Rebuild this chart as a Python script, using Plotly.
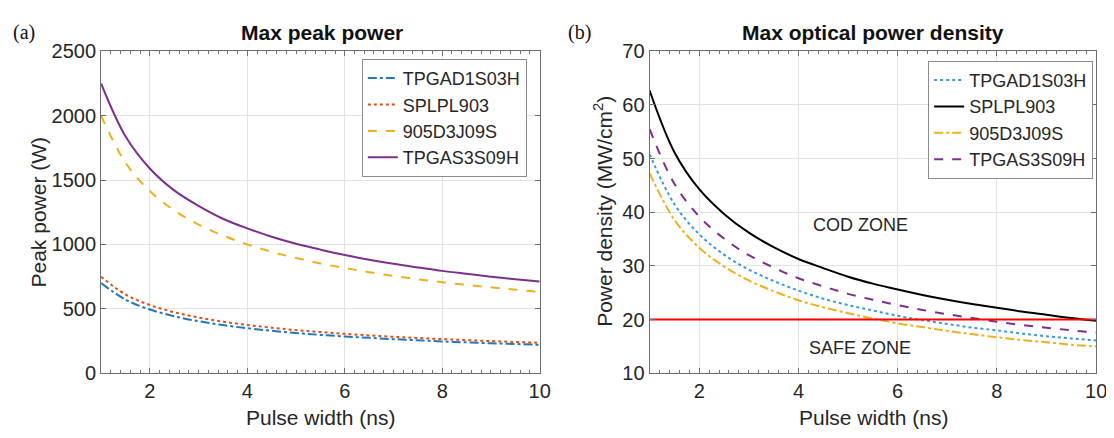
import plotly.graph_objects as go

W, H = 1114, 438

# ---------------- data ----------------
pulse_ns = [1, 1.5, 2, 2.5, 3, 3.5, 4, 4.5, 5, 5.5, 6, 6.5, 7, 7.5, 8, 8.5, 9, 9.5, 10]

# (a) Max peak power (W)
peak_tpgad1s03h = [700, 572, 495, 443, 404, 374, 350, 330, 313, 298, 286, 275, 265, 256, 247, 240, 233, 227, 221]
peak_splpl903 = [750, 612, 530, 474, 433, 401, 375, 354, 335, 320, 306, 294, 283, 274, 265, 257, 250, 243, 237]
peak_905d3j09s = [2000, 1635, 1415, 1265, 1155, 1070, 1000, 943, 895, 853, 817, 785, 756, 730, 707, 686, 667, 649, 633]
peak_tpgas3s09h = [2250, 1840, 1590, 1420, 1300, 1200, 1125, 1060, 1005, 960, 918, 882, 850, 822, 795, 772, 750, 730, 712]

# (b) Max optical power density (MW/cm^2)
dens_tpgad1s03h = [50.8, 41.5, 35.9, 32.1, 29.3, 27.2, 25.4, 23.9, 22.7, 21.7, 20.7, 19.9, 19.2, 18.5, 18.0, 17.4, 16.9, 16.5, 16.1]
dens_splpl903 = [62.7, 51.2, 44.3, 39.7, 36.2, 33.5, 31.3, 29.6, 28.0, 26.7, 25.6, 24.6, 23.7, 22.9, 22.2, 21.5, 20.9, 20.3, 19.8]
dens_905d3j09s = [47.3, 38.6, 33.4, 29.9, 27.3, 25.3, 23.6, 22.3, 21.2, 20.2, 19.3, 18.6, 17.9, 17.3, 16.7, 16.2, 15.8, 15.3, 15.0]
dens_tpgas3s09h = [55.5, 45.3, 39.2, 35.1, 32.0, 29.7, 27.7, 26.2, 24.8, 23.7, 22.7, 21.8, 21.0, 20.3, 19.6, 19.0, 18.5, 18.0, 17.6]

threshold_x = [1, 10]
threshold_y = [20, 20]

names = ["TPGAD1S03H", "SPLPL903", "905D3J09S", "TPGAS3S09H"]

BLUE = "#1f78c1"
LBLUE = "#3a9ad9"
ORANGE = "#D95319"
YELLOW = "#EDB120"
PURPLE = "#7E2F8E"

fig = go.Figure()

left_series = [
    (peak_tpgad1s03h, BLUE, "dashdot"),
    (peak_splpl903, ORANGE, "dot"),
    (peak_905d3j09s, YELLOW, "dash"),
    (peak_tpgas3s09h, PURPLE, "solid"),
]
for (vals, col, dash), nm in zip(left_series, names):
    fig.add_trace(go.Scatter(x=pulse_ns, y=vals, name=nm, mode="lines",
                             line=dict(color=col, dash=dash, width=2, shape="spline"),
                             xaxis="x", yaxis="y", legend="legend"))

right_series = [
    (dens_tpgad1s03h, LBLUE, "dot"),
    (dens_splpl903, "#000000", "solid"),
    (dens_905d3j09s, YELLOW, "dashdot"),
    (dens_tpgas3s09h, PURPLE, "dash"),
]
for (vals, col, dash), nm in zip(right_series, names):
    fig.add_trace(go.Scatter(x=pulse_ns, y=vals, name=nm, mode="lines",
                             line=dict(color=col, dash=dash, width=2, shape="spline"),
                             xaxis="x2", yaxis="y2", legend="legend2"))

fig.add_trace(go.Scatter(x=threshold_x, y=threshold_y, mode="lines", showlegend=False,
                         line=dict(color="#FF0000", width=2), xaxis="x2", yaxis="y2"))

FONT = "Liberation Sans, Arial, sans-serif"
TXT = "#262626"
AX = "#6e6e6e"
GRID = "#e3e3e3"

def xaxis_cfg(domain, anchor):
    return dict(domain=domain, anchor=anchor, range=[1, 10], tickvals=[2, 4, 6, 8, 10],
                ticks="inside", ticklen=5, tickcolor=AX, showline=True, linecolor=AX, linewidth=1,
                mirror="allticks", showgrid=True, gridcolor=GRID, gridwidth=1, zeroline=False,
                tickfont=dict(family=FONT, size=20, color=TXT),
                minor=dict(dtick=0.2, ticks="inside", ticklen=3, tickcolor=AX, showgrid=False))

def yaxis_cfg(domain, anchor, rng, dtick):
    return dict(domain=domain, anchor=anchor, range=rng, dtick=dtick,
                ticks="inside", ticklen=5, tickcolor=AX, showline=True, linecolor=AX, linewidth=1,
                mirror="allticks", showgrid=True, gridcolor=GRID, gridwidth=1, zeroline=False,
                tickfont=dict(family=FONT, size=20, color=TXT))

ydom = [1 - 373 / H, 1 - 34 / H]

fig.update_layout(
    width=W, height=H,
    margin=dict(l=0, r=0, t=0, b=0),
    paper_bgcolor="white", plot_bgcolor="white",
    xaxis=xaxis_cfg([94 / W, 537 / W], "y"),
    yaxis=yaxis_cfg(ydom, "x", [0, 2500], 500),
    xaxis2=xaxis_cfg([648 / W, 1099 / W], "y2"),
    yaxis2=yaxis_cfg(ydom, "x2", [10, 70], 10),
    legend=dict(x=524 / W, y=1 - 42 / H, xanchor="right", yanchor="top",
                bgcolor="white", bordercolor="#8c8c8c", borderwidth=1,
                font=dict(family=FONT, size=18, color=TXT), itemwidth=30,
                tracegroupgap=0),
    legend2=dict(x=1096 / W, y=1 - 44 / H, xanchor="right", yanchor="top",
                 bgcolor="white", bordercolor="#8c8c8c", borderwidth=1,
                 font=dict(family=FONT, size=18, color=TXT), itemwidth=30,
                 tracegroupgap=0),
)

ann = []
def pa(text, x, y, size=21, **kw):
    d = dict(text=text, x=x / W, y=1 - y / H, xref="paper", yref="paper", showarrow=False,
             xanchor="center", yanchor="middle",
             font=dict(family=kw.pop("family", FONT), size=size, color=kw.pop("color", TXT)))
    d.update(kw)
    ann.append(d)

pa("<b>Max peak power</b>", 317, 14, size=21, color="#111")
pa("<b>Max optical power density</b>", 874, 14, size=21, color="#111")
pa("(a)", 16, 14, size=20, family="Liberation Serif, Times New Roman, serif", color="#111")
pa("(b)", 577, 14, size=20, family="Liberation Serif, Times New Roman, serif", color="#111")
pa("Pulse width (ns)", 316, 420, size=21)
pa("Pulse width (ns)", 874, 420, size=21)
pa("Peak power (W)", 31, 203, size=21, textangle=-90)
pa("Power density (MW/cm<sup>2</sup>)", 601, 203, size=21, textangle=-90)

ann.append(dict(text="COD ZONE", x=5.25, y=37.7, xref="x2", yref="y2", showarrow=False,
                xanchor="center", yanchor="middle",
                font=dict(family=FONT, size=18, color=TXT)))
ann.append(dict(text="SAFE ZONE", x=5.25, y=14.8, xref="x2", yref="y2", showarrow=False,
                xanchor="center", yanchor="middle",
                font=dict(family=FONT, size=18, color=TXT)))

fig.update_layout(annotations=ann)

fig.write_html("out.html")
